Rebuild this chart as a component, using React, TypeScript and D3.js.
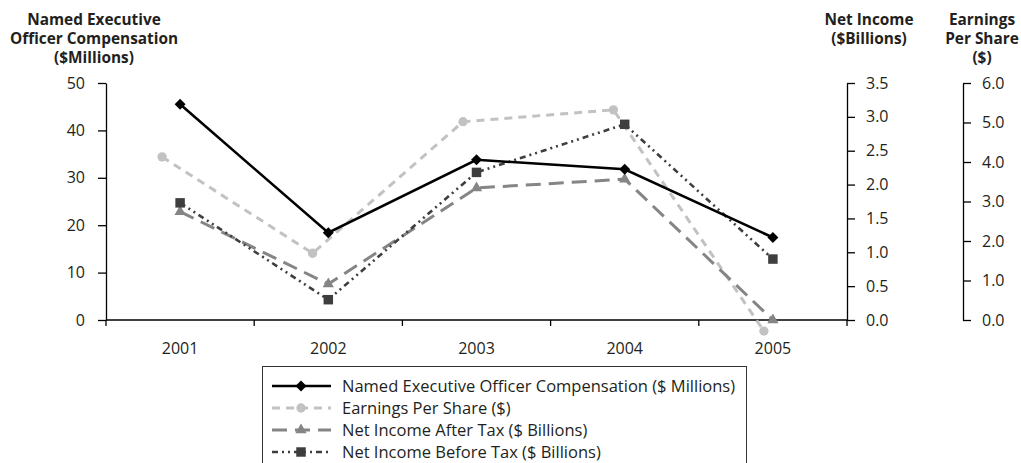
import { useEffect, useRef } from "react"
import * as d3 from "d3"

const years = ["2001", "2002", "2003", "2004", "2005"]
const compensation = [45.5, 18.4, 33.8, 31.8, 17.4]
const eps = [4.13, 1.69, 5.02, 5.32, -0.28]
const netAfterTax = [1.6, 0.53, 1.95, 2.08, 0.0]
const netBeforeTax = [1.73, 0.3, 2.18, 2.89, 0.9]

const compTicks = [0, 10, 20, 30, 40, 50]
const niTicks = [0, 0.5, 1, 1.5, 2, 2.5, 3, 3.5]
const epsTicks = [0, 1, 2, 3, 4, 5, 6]

const legendLabels = [
  "Named Executive Officer Compensation ($ Millions)",
  "Earnings Per Share ($)",
  "Net Income After Tax ($ Billions)",
  "Net Income Before Tax ($ Billions)",
]

const W = 1021
const H = 463
const font = "'Open Sans', 'DejaVu Sans', sans-serif"
const textColor = "#231f20"

export default function App() {
  const svgRef = useRef<SVGSVGElement>(null)

  useEffect(() => {
    if (!svgRef.current) return
    const svg = d3.select(svgRef.current)
    svg.selectAll("*").remove()

    const left = 106
    const right = 847
    const top = 83
    const bottom = 320

    // Scales
    const x = d3.scaleBand<string>().domain(years).range([left, right])
    const cx = (d: string) => (x(d) || 0) + x.bandwidth() / 2
    // EPS markers sit a little to the left of the category centres in the original
    const xEps = d3.scalePoint<string>().domain(years).range([cx("2001") - 18, cx("2005") - 9])

    const yComp = d3.scaleLinear().domain([0, 50]).range([bottom, top])
    const yNI = d3.scaleLinear().domain([0, 3.5]).range([bottom, top])
    const yEps = d3.scaleLinear().domain([0, 6]).range([bottom, top])

    const styleAxis = (g: d3.Selection<SVGGElement, unknown, null, undefined>) => {
      g.select(".domain").attr("stroke", "#000").attr("stroke-width", 1.3)
      g.selectAll(".tick line").attr("stroke", "#000").attr("stroke-width", 1.3)
      g.selectAll(".tick text")
        .attr("fill", textColor)
        .style("font-family", font)
        .style("font-size", "16px")
    }

    // Left axis
    svg.append("g")
      .attr("transform", `translate(${left},0)`)
      .call(d3.axisLeft(yComp).tickValues(compTicks).tickSize(8).tickSizeOuter(0).tickPadding(13))
      .call(styleAxis)

    // Net income axis
    svg.append("g")
      .attr("transform", `translate(${right},0)`)
      .call(d3.axisRight(yNI).tickValues(niTicks).tickSize(8).tickSizeOuter(0).tickPadding(11).tickFormat(d3.format(".1f")))
      .call(styleAxis)

    // EPS axis
    svg.append("g")
      .attr("transform", `translate(963,0)`)
      .call(d3.axisRight(yEps).tickValues(epsTicks).tickSize(8).tickSizeOuter(0).tickPadding(11).tickFormat(d3.format(".1f")))
      .call(styleAxis)

    // Category axis
    const xg = svg.append("g").attr("transform", `translate(0,${bottom})`)
    xg.append("line").attr("x1", left).attr("x2", right).attr("stroke", "#000").attr("stroke-width", 1.3)
    const bounds = [...years.map(d => x(d) || 0), (x(years[years.length - 1]) || 0) + x.bandwidth()]
    xg.selectAll("line.b").data(bounds).join("line")
      .attr("class", "b")
      .attr("x1", d => d).attr("x2", d => d)
      .attr("y1", 0).attr("y2", 6)
      .attr("stroke", "#000").attr("stroke-width", 1.3)
    xg.selectAll("text").data(years).join("text")
      .attr("x", d => cx(d))
      .attr("y", 34)
      .attr("text-anchor", "middle")
      .attr("fill", textColor)
      .style("font-family", font)
      .style("font-size", "16px")
      .text(d => d)

    // Axis titles
    const title = (lines: string[], xc: number) => {
      const t = svg.append("text")
        .attr("text-anchor", "middle")
        .attr("fill", textColor)
        .style("font-family", font)
        .style("font-size", "15.4px")
        .style("font-weight", "bold")
      lines.forEach((l, i) => t.append("tspan").attr("x", xc).attr("y", 25 + i * 19).text(l))
    }
    title(["Named Executive", "Officer Compensation", "($Millions)"], 94)
    title(["Net Income", "($Billions)"], 869)
    title(["Earnings", "Per Share", "($)"], 982)

    // Series
    type Series = {
      values: number[]
      xs: (d: string) => number
      y: d3.ScaleLinear<number, number>
      color: string
      width: number
      dash: string | null
      symbol: d3.SymbolType
      size: number
      rotate: number
    }
    const series: Series[] = [
      { values: eps, xs: d => xEps(d) || 0, y: yEps, color: "#c2c2c2", width: 3, dash: "8,6", symbol: d3.symbolCircle, size: 68, rotate: 0 },
      { values: netAfterTax, xs: cx, y: yNI, color: "#858585", width: 3, dash: "15,8", symbol: d3.symbolTriangle, size: 55, rotate: 0 },
      { values: netBeforeTax, xs: cx, y: yNI, color: "#3e3e3e", width: 2.6, dash: "6,4,2,4,2,4", symbol: d3.symbolSquare, size: 90, rotate: 0 },
      { values: compensation, xs: cx, y: yComp, color: "#000", width: 2.6, dash: null, symbol: d3.symbolSquare, size: 60, rotate: 45 },
    ]

    series.forEach(s => {
      const line = d3.line<number>()
        .x((_, i) => s.xs(years[i]))
        .y(d => s.y(d))
      svg.append("path")
        .datum(s.values)
        .attr("fill", "none")
        .attr("stroke", s.color)
        .attr("stroke-width", s.width)
        .attr("stroke-dasharray", s.dash)
        .attr("d", line)
      svg.append("g").selectAll("path").data(s.values).join("path")
        .attr("d", d3.symbol(s.symbol, s.size)())
        .attr("transform", (d, i) => `translate(${s.xs(years[i])},${s.y(d)}) rotate(${s.rotate})`)
        .attr("fill", s.color)
    })

    // Legend
    const lg = svg.append("g")
    lg.append("rect")
      .attr("x", 262.5).attr("y", 366.5)
      .attr("width", 484).attr("height", 120)
      .attr("fill", "none").attr("stroke", "#333").attr("stroke-width", 1)
    const order = [3, 0, 1, 2]
    order.forEach((si, i) => {
      const s = series[si]
      const yy = 386 + i * 22
      lg.append("line")
        .attr("x1", 272).attr("x2", 331).attr("y1", yy).attr("y2", yy)
        .attr("stroke", s.color)
        .attr("stroke-width", s.width)
        .attr("stroke-dasharray", s.dash)
      lg.append("path")
        .attr("d", d3.symbol(s.symbol, s.size)())
        .attr("transform", `translate(301,${yy}) rotate(${s.rotate})`)
        .attr("fill", s.color)
      lg.append("text")
        .attr("x", 342).attr("y", yy + 5.5)
        .attr("fill", textColor)
        .style("font-family", font)
        .style("font-size", "16.5px")
        .text(legendLabels[i])
    })
  }, [])

  return (
    <svg
      ref={svgRef}
      width={W}
      height={H}
      style={{ position: "absolute", left: 0, top: 0, background: "#fff" }}
    />
  )
}
